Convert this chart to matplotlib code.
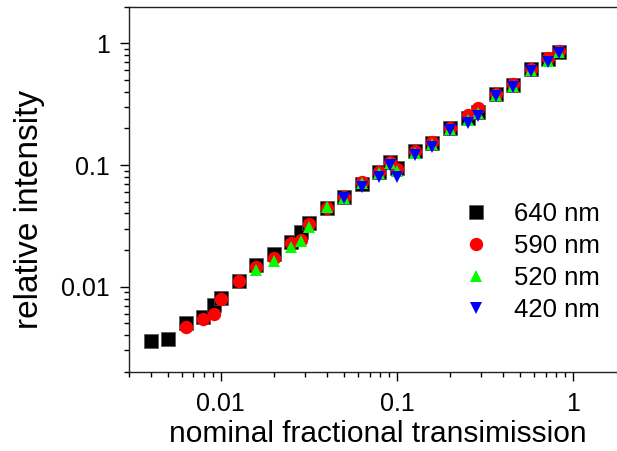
import matplotlib as mpl
mpl.use('Agg')
import matplotlib.pyplot as plt
import numpy as np

plt.rcParams['font.family'] = ['Liberation Sans', 'DejaVu Sans']

# nominal transmission of each filter setting
x640 = [0.00404, 0.00504, 0.00634, 0.00798, 0.00918, 0.0100, 0.01264, 0.0159, 0.01995, 0.0250,
        0.0285, 0.0318, 0.0400, 0.0497, 0.0631, 0.0794, 0.0912, 0.0996, 0.1265, 0.157,
        0.1995, 0.2512, 0.2884, 0.3631, 0.455, 0.573, 0.718, 0.826]
y640 = [0.00360, 0.00370, 0.00506, 0.00561, 0.00707, 0.00812, 0.0111, 0.0151, 0.0186, 0.0234,
        0.0283, 0.0331, 0.0446, 0.0543, 0.0700, 0.0871, 0.1065, 0.0940, 0.1303, 0.1508,
        0.2007, 0.2419, 0.2742, 0.3811, 0.454, 0.611, 0.739, 0.853]

x590 = x640[2:]
y590 = [0.00464, 0.00546, 0.00597, 0.00788, 0.0111, 0.01458, 0.0172, 0.0227,
        0.0241, 0.0325, 0.0446, 0.0550, 0.0725, 0.0880, 0.105, 0.0925, 0.131, 0.155,
        0.203, 0.2563, 0.2927, 0.385, 0.460, 0.620, 0.753, 0.870]

x520 = x640[7:]
y520 = [0.01371, 0.01636, 0.02133, 0.02388, 0.0307, 0.0450, 0.0535, 0.0715, 0.0855,
        0.104, 0.0898, 0.125, 0.148, 0.198, 0.2344, 0.268, 0.375, 0.445, 0.600,
        0.720, 0.850]

x420 = x640[13:]
y420 = [0.0531, 0.0658, 0.0802, 0.1000, 0.0802, 0.1208, 0.1397, 0.1941, 0.2205,
        0.2530, 0.3699, 0.4394, 0.5962, 0.6998, 0.840]

labels = ['640 nm', '590 nm', '520 nm', '420 nm']

fig = plt.figure(figsize=(6.17, 4.51), dpi=100)
# axes box runs past the right edge of the figure
ax = fig.add_axes([128.5/617, 79.2/451, 498/617, 365.1/451])

ax.plot(x640, y640, 's', color='black', ms=9.4, mec='#555555', mew=0.5, label=labels[0])
ax.plot(x590, y590, 'o', color='#ff0000', ms=9.6, mew=0, label=labels[1])
ax.plot(x520, y520, '^', color='#00ff00', ms=9.0, mew=0, label=labels[2])
ax.plot(x420, y420, 'v', color='#0000ff', ms=9.0, mew=0, label=labels[3])

ax.set_xscale('log')
ax.set_yscale('log')
ax.set_xlim(0.003, 2)
ax.set_ylim(0.002, 2)

ax.set_xticks([0.01, 0.1, 1])
ax.set_xticklabels(['0.01', '0.1', '1'])
ax.set_yticks([0.01, 0.1, 1])
ax.set_yticklabels(['0.01', '0.1', '1'])
ax.tick_params(which='major', direction='out', length=6.5, width=1.0, labelsize=18,
               top=False, right=False)
ax.tick_params(axis='x', which='major', pad=8)
ax.tick_params(axis='y', which='major', pad=7)
ax.tick_params(which='minor', direction='out', length=3.6, width=1.0, top=False, right=False)
ax.tick_params(axis='y', which='minor', labelleft=False)
ax.tick_params(axis='x', which='minor', labelbottom=False)
for s in ax.spines.values():
    s.set_linewidth(1.0)
    s.set_color('#222222')

ax.set_xlabel('nominal fractional transimission', fontsize=21.5, labelpad=3)
fig.text(30/617, 1 - 209/451, 'relative intensity', rotation=90, fontsize=24,
         ha='center', va='center')

ax.legend(loc='center left', bbox_to_anchor=(448/617, (451-262)/451), bbox_transform=fig.transFigure,
          frameon=False, fontsize=18.5, handletextpad=0.85, labelspacing=0.30, borderpad=0,
          handlelength=1.2, numpoints=1)

fig.savefig('out.png', dpi=100)
